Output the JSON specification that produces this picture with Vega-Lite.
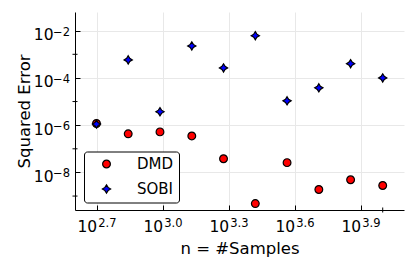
{
  "$schema": "https://vega.github.io/schema/vega-lite/v6.json",
  "width": 329,
  "height": 198,
  "autosize": "none",
  "padding": {"left": 75, "top": 12, "right": 12, "bottom": 56},
  "background": "white",
  "config": {"font": "DejaVu Sans", "view": {"stroke": null}},
  "datasets": {
    "points": [
      {"n": 500, "err": 1.18e-6, "method": "DMD"},
      {"n": 697, "err": 4.3e-7, "method": "DMD"},
      {"n": 972, "err": 5.2e-7, "method": "DMD"},
      {"n": 1356, "err": 3.5e-7, "method": "DMD"},
      {"n": 1890, "err": 3.8e-8, "method": "DMD"},
      {"n": 2636, "err": 4.8e-10, "method": "DMD"},
      {"n": 3675, "err": 2.6e-8, "method": "DMD"},
      {"n": 5125, "err": 1.9e-9, "method": "DMD"},
      {"n": 7146, "err": 4.9e-9, "method": "DMD"},
      {"n": 10000, "err": 2.8e-9, "method": "DMD"},
      {"n": 500, "err": 1.12e-6, "method": "SOBI"},
      {"n": 697, "err": 5.8e-4, "method": "SOBI"},
      {"n": 972, "err": 3.7e-6, "method": "SOBI"},
      {"n": 1356, "err": 2.25e-3, "method": "SOBI"},
      {"n": 1890, "err": 2.65e-4, "method": "SOBI"},
      {"n": 2636, "err": 6.1e-3, "method": "SOBI"},
      {"n": 3675, "err": 1.07e-5, "method": "SOBI"},
      {"n": 5125, "err": 3.8e-5, "method": "SOBI"},
      {"n": 7146, "err": 4.0e-4, "method": "SOBI"},
      {"n": 10000, "err": 1.0e-4, "method": "SOBI"}
    ],
    "xexp": [
      {"v": 501.187, "e": "2.7"},
      {"v": 1000, "e": "3.0"},
      {"v": 1995.262, "e": "3.3"},
      {"v": 3981.072, "e": "3.6"},
      {"v": 7943.282, "e": "3.9"}
    ],
    "yexp": [
      {"v": 0.01, "e": "−2"},
      {"v": 0.0001, "e": "−4"},
      {"v": 1e-6, "e": "−6"},
      {"v": 1e-8, "e": "−8"}
    ],
    "yminor": [{"v": 1e-3}, {"v": 1e-5}, {"v": 1e-7}, {"v": 1e-9}],
    "xminor": [{"v": 10000}]
  },
  "layer": [
    {
      "data": {"name": "points"},
      "mark": {"type": "point", "filled": true, "stroke": "black", "strokeWidth": 1.2, "opacity": 1},
      "encoding": {
        "x": {
          "field": "n", "type": "quantitative", "title": "n = #Samples",
          "scale": {"type": "log", "domain": [399.4, 12496], "nice": false, "zero": false},
          "axis": {
            "values": [501.187, 1000, 1995.262, 3981.072, 7943.282],
            "title": "n = #Samples",
            "titleFont": "DejaVu Sans", "titleFontSize": 16.5, "titleFontWeight": "normal", "titleColor": "black",
            "titleBaseline": "alphabetic", "titleY": 43.3, "titleX": 164.5, "titleAlign": "center",
            "labelExpr": "'10'",
            "labelFont": "DejaVu Sans", "labelFontSize": 15.5, "labelColor": "black",
            "labelAlign": "right", "labelDx": 2, "labelBaseline": "alphabetic", "labelPadding": 26,
            "labelFlush": false, "labelOverlap": false,
            "tickSize": -5,
            "tickColor": "black", "tickWidth": 1,
            "domainColor": "black", "domainWidth": 1,
            "grid": true, "gridColor": "#e8e8e8", "gridWidth": 1
          }
        },
        "y": {
          "field": "err", "type": "quantitative", "title": "Squared Error",
          "scale": {"type": "log", "domain": [2.57e-10, 0.06166], "nice": false, "zero": false},
          "axis": {
            "values": [1e-8, 1e-6, 1e-4, 1e-2],
            "title": "Squared Error",
            "titleFont": "DejaVu Sans", "titleFontSize": 16.5, "titleFontWeight": "normal", "titleColor": "black",
            "titleBaseline": "alphabetic", "titleX": -46, "titleY": 99, "titleAngle": 270, "titleAlign": "center",
            "labelExpr": "'10'",
            "labelFont": "DejaVu Sans", "labelFontSize": 15.5, "labelColor": "black",
            "labelAlign": "right", "labelBaseline": "alphabetic", "labelOffset": 9, "labelPadding": 27,
            "labelFlush": false, "labelOverlap": false,
            "tickSize": -5,
            "tickColor": "black", "tickWidth": 1,
            "domainColor": "black", "domainWidth": 1,
            "grid": true, "gridColor": "#e8e8e8", "gridWidth": 1
          }
        },
        "color": {
          "field": "method", "type": "nominal",
          "scale": {"domain": ["DMD", "SOBI"], "range": ["#ff0000", "#0000ff"]},
          "legend": {
            "orient": "none", "legendX": 9, "legendY": 139.5, "title": null,
            "strokeColor": "black", "cornerRadius": 3, "fillColor": "white",
            "padding": 5, "labelFont": "DejaVu Sans", "labelFontSize": 15, "labelColor": "black",
            "symbolOffset": 10, "labelOffset": 23, "rowPadding": 9,
            "symbolStrokeColor": "black", "symbolStrokeWidth": 1.2,
            "labelExpr": "datum.label + '\u2002\u2009\u2009'"
          }
        },
        "shape": {
          "field": "method", "type": "nominal",
          "scale": {"domain": ["DMD", "SOBI"], "range": ["circle", "M0,-1L0.38,-0.38L1,0L0.38,0.38L0,1L-0.38,0.38L-1,0L-0.38,-0.38Z"]}
        },
        "size": {
          "field": "method", "type": "nominal",
          "scale": {"domain": ["DMD", "SOBI"], "range": [60, 68]}
        }
      }
    },
    {
      "data": {"name": "yminor"},
      "mark": {"type": "tick", "orient": "horizontal", "size": 5, "thickness": 1, "color": "black", "opacity": 1},
      "encoding": {
        "x": {"datum": 399.4, "type": "quantitative", "title": "n = #Samples", "scale": {"type": "log", "domain": [399.4, 12496], "nice": false, "zero": false}},
        "y": {"field": "v", "type": "quantitative", "title": "Squared Error", "scale": {"type": "log", "domain": [2.57e-10, 0.06166], "nice": false, "zero": false}}
      }
    },
    {
      "data": {"name": "xminor"},
      "mark": {"type": "tick", "orient": "vertical", "size": 5, "thickness": 1, "color": "black", "opacity": 1},
      "encoding": {
        "x": {"field": "v", "type": "quantitative", "title": "n = #Samples", "scale": {"type": "log", "domain": [399.4, 12496], "nice": false, "zero": false}},
        "y": {"datum": 2.57e-10, "type": "quantitative", "title": "Squared Error", "scale": {"type": "log", "domain": [2.57e-10, 0.06166], "nice": false, "zero": false}}
      }
    },
    {
      "data": {"name": "xexp"},
      "mark": {"type": "text", "align": "left", "baseline": "alphabetic", "dx": 1.5, "dy": 17.3, "fontSize": 11.5, "font": "DejaVu Sans", "color": "black"},
      "encoding": {
        "x": {"field": "v", "type": "quantitative", "title": "n = #Samples", "scale": {"type": "log", "domain": [399.4, 12496], "nice": false, "zero": false}},
        "y": {"datum": 2.57e-10, "type": "quantitative", "title": "Squared Error", "scale": {"type": "log", "domain": [2.57e-10, 0.06166], "nice": false, "zero": false}},
        "text": {"field": "e"}
      }
    },
    {
      "data": {"name": "yexp"},
      "mark": {"type": "text", "align": "left", "baseline": "alphabetic", "dx": -22, "dy": 5, "fontSize": 11.5, "font": "DejaVu Sans", "color": "black"},
      "encoding": {
        "x": {"datum": 399.4, "type": "quantitative", "title": "n = #Samples", "scale": {"type": "log", "domain": [399.4, 12496], "nice": false, "zero": false}},
        "y": {"field": "v", "type": "quantitative", "title": "Squared Error", "scale": {"type": "log", "domain": [2.57e-10, 0.06166], "nice": false, "zero": false}},
        "text": {"field": "e"}
      }
    }
  ]
}
